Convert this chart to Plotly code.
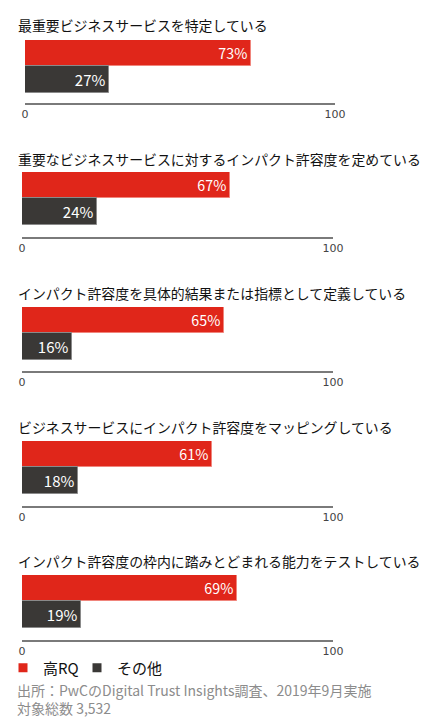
import plotly.graph_objects as go

titles = [
    "最重要ビジネスサービスを特定している",
    "重要なビジネスサービスに対するインパクト許容度を定めている",
    "インパクト許容度を具体的結果または指標として定義している",
    "ビジネスサービスにインパクト許容度をマッピングしている",
    "インパクト許容度の枠内に踏みとどまれる能力をテストしている",
]
series_names = ["高RQ", "その他"]
high_rq = [73, 67, 65, 61, 69]
others = [27, 24, 16, 18, 19]
x_ticks = [0, 100]
source_lines = ["出所：PwCのDigital Trust Insights調査、2019年9月実施", "対象総数 3,532"]

W, H = 426, 718
RED = "#e0261a"
DARK = "#3a3836"
COLORS = [RED, DARK]
EDGES = ["#f0857c", "#8a8a8a"]
FONT = "Noto Sans CJK JP"

# layout geometry in pixels
bar_top = [40, 172, 307, 441, 575]
axis_y = [103, 237, 371, 506, 640]
title_y = [25, 159, 293, 427, 561]
x_left = [25, 22, 22, 22, 22]
x_right = [335, 333, 333, 333, 333]
bar_px = 26.3
legend_x = [3, 77]


def py(p):
    return 1 - p / H


def px(p):
    return p / W


fig = go.Figure()
annotations = []
for i in range(5):
    n = "" if i == 0 else str(i + 1)
    xa, ya = "x" + n, "y" + n
    for k, vals in enumerate([high_rq, others]):
        fig.add_trace(go.Bar(
            x=[vals[i]], y=[series_names[k]], orientation="h", name=series_names[k],
            marker=dict(color=COLORS[k], line=dict(color=EDGES[k], width=1)),
            texttemplate="%{x}%", textposition="inside", insidetextanchor="end",
            textfont=dict(color="white", size=15, family=FONT),
            xaxis=xa, yaxis=ya, showlegend=False, hoverinfo="skip",
        ))
    bottom = 1.5 - (axis_y[i] - bar_top[i]) / bar_px
    fig.update_layout(**{
        ("xaxis" + n): dict(
            domain=[px(x_left[i]), px(x_right[i])], range=[0, 100], anchor=ya,
            tickvals=x_ticks, ticks="", showgrid=False, zeroline=False,
            showline=True, linecolor="#7a7a7a", linewidth=2, automargin=False,
            tickfont=dict(size=11, color="#444", family="DejaVu Sans"),
        ),
        ("yaxis" + n): dict(
            domain=[py(axis_y[i]), py(bar_top[i])], anchor=xa,
            type="category", categoryarray=[series_names[1], series_names[0]],
            categoryorder="array", range=[bottom, 1.5], automargin=False,
            showticklabels=False, showgrid=False, zeroline=False, showline=False, ticks="",
        ),
    })
    annotations.append(dict(
        text=titles[i], x=px(16), y=py(title_y[i]), xref="paper", yref="paper",
        xanchor="left", yanchor="middle", showarrow=False,
        font=dict(size=13.9, color="#111", family=FONT),
    ))

# legend entries (square swatches), one legend box per series
legend_layout = {}
for k in range(2):
    lg = "legend" if k == 0 else "legend2"
    fig.add_trace(go.Scatter(
        x=[None], y=[None], mode="markers", name=series_names[k],
        marker=dict(symbol="square", size=9, color=COLORS[k]),
        xaxis="x", yaxis="y", showlegend=True, hoverinfo="skip", legend=lg,
    ))
    legend_layout[lg] = dict(
        orientation="h", x=px(legend_x[k]), y=py(668), xanchor="left", yanchor="middle",
        font=dict(size=15, color="#111", family=FONT), itemwidth=30,
        bgcolor="rgba(0,0,0,0)", borderwidth=0,
    )

for j, line in enumerate(source_lines):
    annotations.append(dict(
        text=line, x=px(15), y=py(690 + j * 18), xref="paper", yref="paper",
        xanchor="left", yanchor="middle", showarrow=False,
        font=dict(size=14, color="#8c8c8c", family=FONT),
    ))

fig.update_layout(
    template="none",
    width=W, height=H, margin=dict(l=0, r=0, t=0, b=0, pad=0, autoexpand=False),
    autosize=False,
    paper_bgcolor="white", plot_bgcolor="white",
    barmode="overlay", bargap=0,
    annotations=annotations,
    font=dict(family=FONT),
    **legend_layout,
)

fig.write_html(
    "out.html",
    config={"responsive": False, "displayModeBar": False},
    post_script="document.body.style.margin='0';document.body.style.overflow='hidden';",
)
